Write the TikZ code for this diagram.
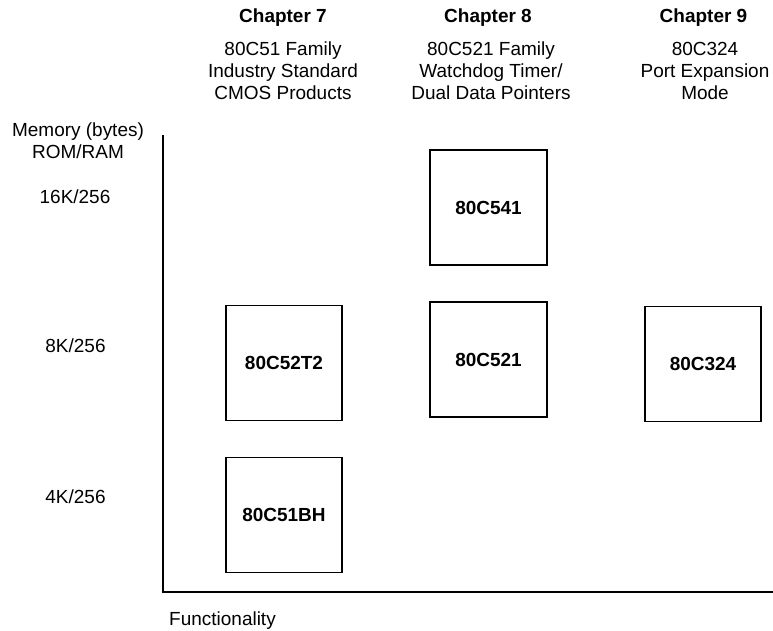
\documentclass[tikz,border=0pt]{standalone}
\usepackage{fontspec}
\setmainfont{Liberation Sans}
\usetikzlibrary{positioning}

\begin{document}
\begin{tikzpicture}[
    font=\fontsize{10.8}{12.5}\selectfont,
    chip/.style={draw, line width=1.1pt, minimum width=2.33cm,
      minimum height=2.3cm, font=\fontsize{10.8}{12.5}\selectfont\bfseries},
    chapter/.style={font=\fontsize{10.8}{12.5}\selectfont\bfseries},
    family/.style={align=center},
  ]
  \useasboundingbox (0,0) rectangle (15.46,12.6);

  % Axes
  \coordinate (top) at (3.26,9.9);
  \coordinate (origin) at (3.26,0.76);
  \coordinate (right) at (15.46,0.76);
  \draw[line width=1.1pt] (top) -- (origin) -- (right);

  % Memory sizes on the left
  \node[align=center] (mem) at (1.56,9.79) {Memory (bytes)\\ROM/RAM};
  \node (r16) at (1.5,8.66) {16K/256};
  \node (r8)  at (1.51,5.68) {8K/256};
  \node (r4)  at (1.51,2.66) {4K/256};
  \node (func) at (4.45,0.18) {Functionality};

  % Chapter headings
  \node[chapter] (ch7) at (5.66,12.24) {Chapter 7};
  \node[family]  (fam7) at (5.66,11.18)
    {80C51 Family\\Industry Standard\\CMOS Products};
  \node[chapter] (ch8) at (9.76,12.24) {Chapter 8};
  \node[family]  (fam8) at (9.82,11.18)
    {80C521 Family\\Watchdog Timer/\\Dual Data Pointers};
  \node[chapter] (ch9) at (14.07,12.24) {Chapter 9};
  \node[family]  (fam9) at (14.1,11.18)
    {80C324\\Port Expansion\\Mode};

  % Parts
  \node[chip] (bh)   at (5.68,2.3)  {80C51BH};
  \node[chip] (t2)   at (5.68,5.34) {80C52T2};
  \node[chip] (c521) at (9.77,5.41) {80C521};
  \node[chip] (c541) at (9.77,8.45) {80C541};
  \node[chip] (c324) at (14.06,5.32) {80C324};
\end{tikzpicture}
\end{document}
